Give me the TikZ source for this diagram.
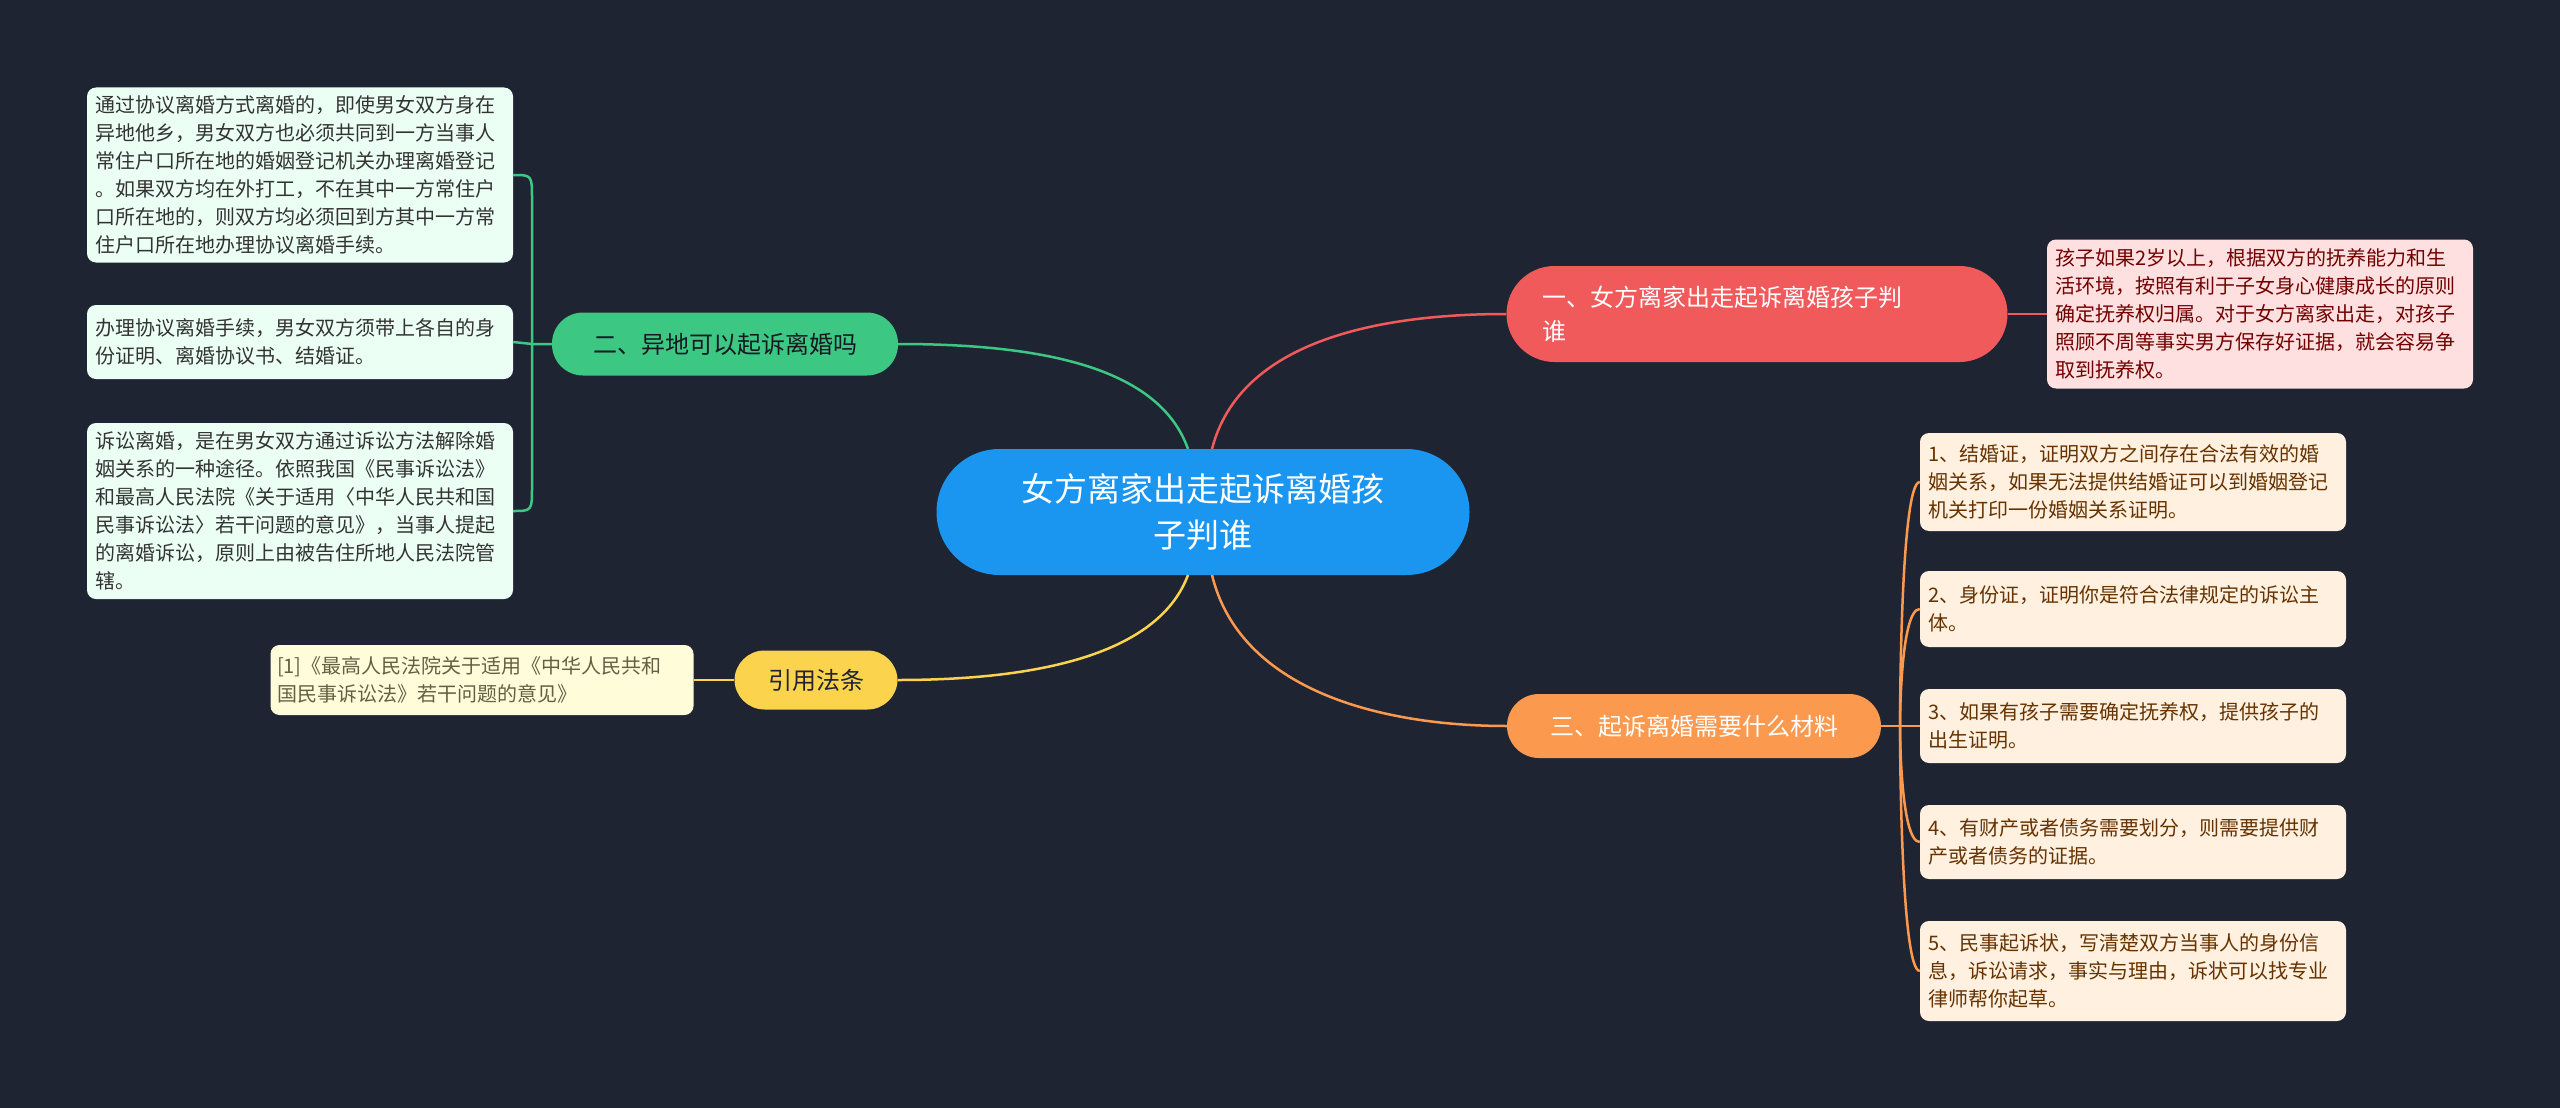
\documentclass[tikz,border=0pt]{standalone}
\usepackage{fontspec}
\setmainfont{Noto Sans CJK SC}
\begin{document}
\begin{tikzpicture}[x=1pt,y=-1pt,
  pill/.style={inner sep=0pt,font=\fontsize{24}{34}\selectfont,text=white},
  conn/.style={line width=2.5pt}]
\definecolor{bg}{HTML}{1F2433}
\definecolor{cblue}{HTML}{1A96F0}
\definecolor{cred}{HTML}{F05A5A}
\definecolor{cgreen}{HTML}{3CC882}
\definecolor{cyel}{HTML}{FCD34D}
\definecolor{corg}{HTML}{FB9A4E}
\fill[bg] (0,0) rectangle (2560,1108);
\useasboundingbox (0,0) rectangle (2560,1108);
\tikzset{lf/.style={rounded corners=9pt,inner sep=0pt,minimum width=426pt,font=\fontsize{20}{28}\selectfont,align=left}}
% center
\node[fill=cblue,rounded corners=63pt,minimum width=533pt,minimum height=126pt,inner sep=0pt,align=center,text=white,font=\fontsize{33}{46}\selectfont] (c) at (1203,512) {女方离家出走起诉离婚孩\\子判谁};
% branches
\node[pill,fill=cred,rounded corners=48pt,minimum width=501pt,minimum height=96pt,align=left,text width=430pt] (b1) at (1757,314) {一、女方离家出走起诉离婚孩子判\\谁};
\node[pill,fill=cgreen,rounded corners=31pt,minimum width=346pt,minimum height=63pt,text=bg!70!black] (b2) at (725,344) {二、异地可以起诉离婚吗};
\node[pill,fill=cyel,rounded corners=30pt,minimum width=163pt,minimum height=59pt,text=bg] (b4) at (816,680) {引用法条};
\node[pill,fill=corg,rounded corners=32pt,minimum width=374pt,minimum height=64pt] (b3) at (1694,726) {三、起诉离婚需要什么材料};
% leaves
\node[lf,fill=red!12!white,text=red!45!black,minimum height=149pt] (r1) at (2260,314) {\parbox{410pt}{孩子如果2岁以上，根据双方的抚养能力和生\\活环境，按照有利于子女身心健康成长的原则\\确定抚养权归属。对于女方离家出走，对孩子\\照顾不周等事实男方保存好证据，就会容易争\\取到抚养权。}};
\tikzset{gl/.style={lf,fill=green!50!cyan!8!white,text=black!80}}
\node[gl,minimum height=175pt] (l1) at (300,175) {\parbox{410pt}{通过协议离婚方式离婚的，即使男女双方身在\\异地他乡，男女双方也必须共同到一方当事人\\常住户口所在地的婚姻登记机关办理离婚登记\\。如果双方均在外打工，不在其中一方常住户\\口所在地的，则双方均必须回到方其中一方常\\住户口所在地办理协议离婚手续。}};
\node[gl,minimum height=74pt] (l2) at (300,342) {\parbox{410pt}{办理协议离婚手续，男女双方须带上各自的身\\份证明、离婚协议书、结婚证。}};
\node[gl,minimum height=176pt] (l3) at (300,511) {\parbox{410pt}{诉讼离婚，是在男女双方通过诉讼方法解除婚\\姻关系的一种途径。依照我国《民事诉讼法》\\和最高人民法院《关于适用〈中华人民共和国\\民事诉讼法〉若干问题的意见》，当事人提起\\的离婚诉讼，原则上由被告住所地人民法院管\\辖。}};
\node[lf,fill=yellow!15!white,text=yellow!30!black,minimum width=423pt,minimum height=70pt] (y1) at (482,680) {\parbox{410pt}{[1]《最高人民法院关于适用《中华人民共和\\国民事诉讼法》若干问题的意见》}};
\tikzset{ol/.style={lf,fill=orange!12!white,text=orange!40!black}}
\node[ol,minimum height=98pt] (o1) at (2133,482) {\parbox{410pt}{1、结婚证，证明双方之间存在合法有效的婚\\姻关系，如果无法提供结婚证可以到婚姻登记\\机关打印一份婚姻关系证明。}};
\node[ol,minimum height=76pt] (o2) at (2133,609) {\parbox{410pt}{2、身份证，证明你是符合法律规定的诉讼主\\体。}};
\node[ol,minimum height=74pt] (o3) at (2133,726) {\parbox{410pt}{3、如果有孩子需要确定抚养权，提供孩子的\\出生证明。}};
\node[ol,minimum height=74pt] (o4) at (2133,842) {\parbox{410pt}{4、有财产或者债务需要划分，则需要提供财\\产或者债务的证据。}};
\node[ol,minimum height=100pt] (o5) at (2133,971) {\parbox{410pt}{5、民事起诉状，写清楚双方当事人的身份信\\息，诉讼请求，事实与理由，诉状可以找专业\\律师帮你起草。}};
% center connectors
\coordinate (ct1) at (1212,449);
\coordinate (ct2) at (1188,449);
\coordinate (cb1) at (1188,575);
\coordinate (cb2) at (1212,575);
\draw[conn,cred] (ct1) .. controls (1240,340) and (1380,314) .. (b1.west);
\draw[conn,cgreen] (ct2) .. controls (1160,370) and (1050,344) .. (b2.east);
\draw[conn,cyel] (cb1) .. controls (1160,650) and (1050,680) .. (b4.east);
\draw[conn,corg] (cb2) .. controls (1240,690) and (1380,726) .. (b3.west);
% leaf connectors
\draw[conn,cred] (b1.east) -- (r1.west);
\coordinate (gj) at (532,344);
\draw[conn,cgreen] (b2.west) -- (gj) -- (l2.east);
\draw[conn,cgreen] (l1.east) .. controls (532,175) .. (532,200) -- (532,486) .. controls (532,511) .. (l3.east);
\draw[conn,cyel] (b4.west) -- (y1.east);
\coordinate (oj) at (1900,726);
\draw[conn,corg] (b3.east) -- (oj);
\foreach \n in {o1,o2,o3,o4,o5}
  \draw[conn,corg] (oj) .. controls (1900,726) and (1900,0 |- \n.west) .. (\n.west);
\end{tikzpicture}
\end{document}
